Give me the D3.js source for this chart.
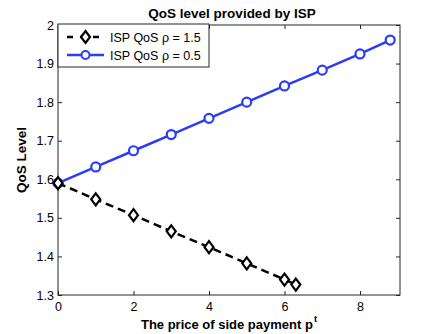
<!DOCTYPE html>
<html>
<head>
<meta charset="utf-8">
<script src="https://cdn.jsdelivr.net/npm/d3@7"></script>
<style>
  body { margin: 0; background: #fff; }
  svg text { font-family: "Liberation Sans", Arial, sans-serif; }
</style>
</head>
<body>
<div id="chart"></div>
<script>
// data
var xHigh = [0, 1, 2, 3, 4, 5, 6, 6.3];
var yHigh = [1.590, 1.548, 1.507, 1.465, 1.424, 1.382, 1.340, 1.327];
var xLow = [0, 1, 2, 3, 4, 5, 6, 7, 8, 8.8];
var yLow = [1.590, 1.632, 1.674, 1.716, 1.758, 1.800, 1.842, 1.883, 1.925, 1.961];
var xTicks = [0, 2, 4, 6, 8];
var yTicks = [1.3, 1.4, 1.5, 1.6, 1.7, 1.8, 1.9, 2];
var seriesNames = ["ISP QoS \u03c1 = 1.5", "ISP QoS \u03c1 = 0.5"];

var W = 443, H = 334;
var m = {left: 58, right: 43, top: 25, bottom: 39};

var svg = d3.select('#chart').append('svg')
   .attr('width', W)
   .attr('height', H);

var x = d3.scaleLinear().domain([0, 9.06]).range([m.left, W - m.right]);
var y = d3.scaleLinear().domain([1.3, 2]).range([H - m.bottom, m.top]);

var pw = W - m.right - m.left;
var ph = H - m.bottom - m.top;

// box
svg.append('rect')
   .attr('x', m.left).attr('y', m.top)
   .attr('width', pw).attr('height', ph)
   .attr('fill', '#fff').attr('stroke', '#262626').attr('stroke-width', 1);

function styleAxis(g) {
   g.select('.domain').remove();
   g.selectAll('line').attr('stroke', '#262626');
   g.selectAll('text').attr('fill', '#000').style('font-size', '12.5px');
}

svg.append('g')
   .attr('transform', 'translate(0,' + (H - m.bottom) + ')')
   .call(d3.axisBottom(x).tickValues(xTicks).tickSize(-4).tickPadding(7).tickFormat(d3.format('d')))
   .call(styleAxis);
svg.append('g')
   .attr('transform', 'translate(0,' + m.top + ')')
   .call(d3.axisTop(x).tickValues(xTicks).tickSize(-4).tickFormat(''))
   .call(styleAxis);
svg.append('g')
   .attr('transform', 'translate(' + m.left + ',0)')
   .call(d3.axisLeft(y).tickValues(yTicks).tickSize(-4).tickPadding(4).tickFormat(function (d) { return d === 2 ? '2' : d3.format('.1f')(d); }))
   .call(styleAxis);
svg.append('g')
   .attr('transform', 'translate(' + (W - m.right) + ',0)')
   .call(d3.axisRight(y).tickValues(yTicks).tickSize(-4).tickFormat(''))
   .call(styleAxis);

var line = d3.line()
   .x(function (d) { return x(d[0]); })
   .y(function (d) { return y(d[1]); });

var high = xHigh.map(function (v, i) { return [v, yHigh[i]]; });
var low = xLow.map(function (v, i) { return [v, yLow[i]]; });

var diamond = function (cx, cy) {
   var r = 6;
   return 'M' + cx + ',' + (cy - r) + 'L' + (cx + r * 0.75) + ',' + cy + 'L' + cx + ',' + (cy + r) + 'L' + (cx - r * 0.75) + ',' + cy + 'Z';
};

// blue series
svg.append('path').datum(low)
   .attr('d', line).attr('fill', 'none')
   .attr('stroke', '#2a3cf5').attr('stroke-width', 2.5);
svg.selectAll('.cLow').data(low).enter().append('circle')
   .attr('cx', function (d) { return x(d[0]); })
   .attr('cy', function (d) { return y(d[1]); })
   .attr('r', 4.5)
   .attr('fill', '#fff').attr('stroke', '#2a3cf5').attr('stroke-width', 2.2);

// black dashed series
svg.append('path').datum(high)
   .attr('d', line).attr('fill', 'none')
   .attr('stroke', '#000').attr('stroke-width', 2.5)
   .attr('stroke-dasharray', '8,5');
svg.selectAll('.dHigh').data(high).enter().append('path')
   .attr('d', function (d) { return diamond(x(d[0]), y(d[1])); })
   .attr('fill', '#fff').attr('stroke', '#000').attr('stroke-width', 2.2);

// legend
var lg = svg.append('g');
lg.append('rect')
   .attr('x', m.left).attr('y', m.top - 1)
   .attr('width', 151).attr('height', 43)
   .attr('fill', '#fff').attr('stroke', '#262626').attr('stroke-width', 1);

var ly1 = 37, ly2 = 55;
lg.append('line').attr('x1', 67).attr('x2', 104).attr('y1', ly1).attr('y2', ly1)
   .attr('stroke', '#000').attr('stroke-width', 2.5).attr('stroke-dasharray', '6,7');
lg.append('path').attr('d', diamond(85.5, ly1))
   .attr('fill', '#fff').attr('stroke', '#000').attr('stroke-width', 2.2);
lg.append('line').attr('x1', 67).attr('x2', 104).attr('y1', ly2).attr('y2', ly2)
   .attr('stroke', '#2a3cf5').attr('stroke-width', 2.5);
lg.append('circle').attr('cx', 85.5).attr('cy', ly2).attr('r', 4)
   .attr('fill', '#fff').attr('stroke', '#2a3cf5').attr('stroke-width', 2);

lg.selectAll('.lt').data(seriesNames).enter().append('text')
   .attr('x', 110)
   .attr('y', function (d, i) { return (i ? ly2 : ly1) + 4.5; })
   .style('font-size', '12.5px')
   .text(function (d) { return d; });

// titles
svg.append('text')
   .attr('x', 232).attr('y', 18)
   .attr('text-anchor', 'middle')
   .style('font-size', '13.5px').style('font-weight', 'bold')
   .text('QoS level provided by ISP');

var xl = svg.append('text')
   .attr('x', 229).attr('y', 329)
   .attr('text-anchor', 'middle')
   .style('font-size', '13px').style('font-weight', 'bold');
xl.append('tspan').text('The price of side payment p');
xl.append('tspan').attr('dy', -7).attr('dx', 1).style('font-size', '9.5px').text('t');

svg.append('text')
   .attr('transform', 'translate(26,' + (m.top + ph / 2) + ') rotate(-90)')
   .attr('text-anchor', 'middle')
   .style('font-size', '13.5px').style('font-weight', 'bold')
   .text('QoS Level');
</script>
</body>
</html>
